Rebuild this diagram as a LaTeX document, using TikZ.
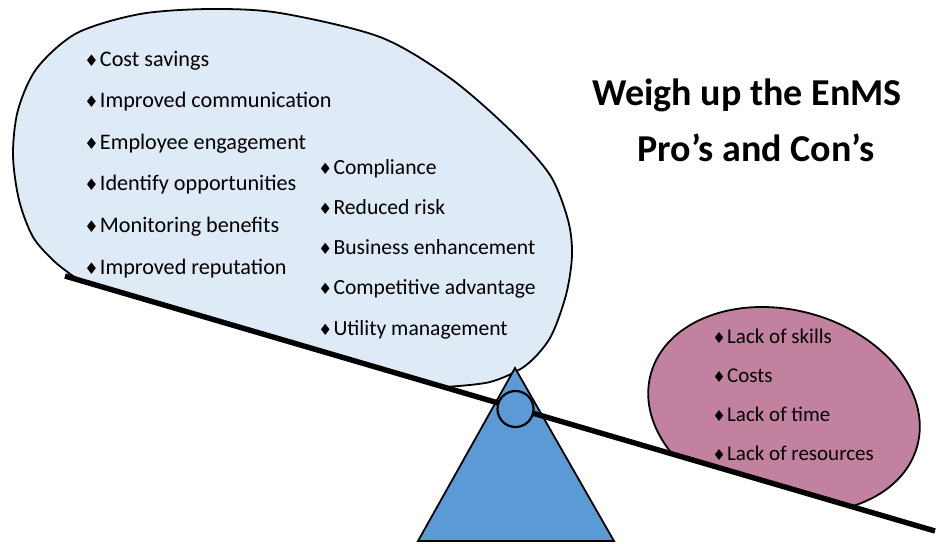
\documentclass[tikz,border=0pt]{standalone}
\usepackage{fontspec}
\setmainfont{Carlito}
\newfontfamily\dingfont{DejaVu Sans}
\definecolor{problue}{HTML}{DEEAF6}
\definecolor{conpink}{HTML}{C2819F}
\definecolor{pivotblue}{HTML}{5B9BD5}
\newcommand{\bul}{{\dingfont\scalebox{0.72}{♦}}\hspace{0.6pt}}

\begin{document}
\begin{tikzpicture}[x=0.5pt, y=-0.5pt]
	\tikzstyle{pro} = [anchor=base west, inner sep=0pt, font=\fontsize{11.1}{13}\selectfont]
	\tikzstyle{pro2} = [anchor=base west, inner sep=0pt, font=\fontsize{10.8}{13}\selectfont]
	\tikzstyle{con} = [anchor=base west, inner sep=0pt, font=\fontsize{10.5}{13}\selectfont]
	\tikzstyle{title} = [anchor=base west, inner sep=0pt, font=\fontsize{19}{23}\selectfont\bfseries]
	\tikzstyle{outline} = [draw, line width=0.9pt]
	\fill[white] (0,0) rectangle (941,543);
	\useasboundingbox (0,0) rectangle (941,543);

	% beam end points and pivot
	\coordinate (l) at (65,276);
	\coordinate (r) at (935,531);
	\coordinate (top) at (515,368);
	\coordinate (br) at (614,541);
	\coordinate (bl) at (418,541);
	\coordinate (hub) at (515.5,409);

	% the two loads, cut off by the beam
	\begin{scope}
	\clip (0,0) -- (941,0) -- (941,532.7) -- (0,257) -- cycle;
	\path[outline, fill=problue] plot[smooth] coordinates {
		(80,281) (55,262) (33,237) (19,200) (13,155) (18,110) (37,68)
		(77,33) (140,14) (210,9) (280,13) (380,37) (450,78) (510,130)
		(550,175) (568,220) (572,255) (566,295) (550,338) (525,366)
		(490,382) (445,387)} -- cycle;
	\path[outline, fill=conpink, rotate around={-15:(784,410)}]
		(784,410) ellipse [x radius=138, y radius=100];
	\end{scope}

	% pivot and beam
	\path[outline, fill=pivotblue] (top) -- (br) -- (bl) -- cycle;
	\draw[line width=2.7pt] (l) -- (r);
	\path[outline, line width=1.1pt, fill=pivotblue] (hub) circle [radius=18];

	\path
	node[title] (t1) at (592,105) {Weigh up the EnMS}
	node[title] (t2) at (637,161) {Pro’s and Con’s}
	;

	% pros, left column
	\path
	node[pro] (p1) at (84,66) {\bul Cost savings}
	node[pro] (p2) at (84,107.6) {\bul Improved communication}
	node[pro] (p3) at (84,149.2) {\bul Employee engagement}
	node[pro] (p4) at (84,190.8) {\bul Identify opportunities}
	node[pro] (p5) at (84,232.4) {\bul Monitoring benefits}
	node[pro] (p6) at (84,274) {\bul Improved reputation}
	;

	% pros, right column
	\path
	node[pro2] (q1) at (318,174) {\bul Compliance}
	node[pro2] (q2) at (318,214.2) {\bul Reduced risk}
	node[pro2] (q3) at (318,254.5) {\bul Business enhancement}
	node[pro2] (q4) at (318,294.7) {\bul Competitive advantage}
	node[pro2] (q5) at (318,335) {\bul Utility management}
	;

	% cons
	\path
	node[con] (c1) at (712,343) {\bul Lack of skills}
	node[con] (c2) at (712,382) {\bul Costs}
	node[con] (c3) at (712,421) {\bul Lack of time}
	node[con] (c4) at (712,460) {\bul Lack of resources}
	;
\end{tikzpicture}
\end{document}
